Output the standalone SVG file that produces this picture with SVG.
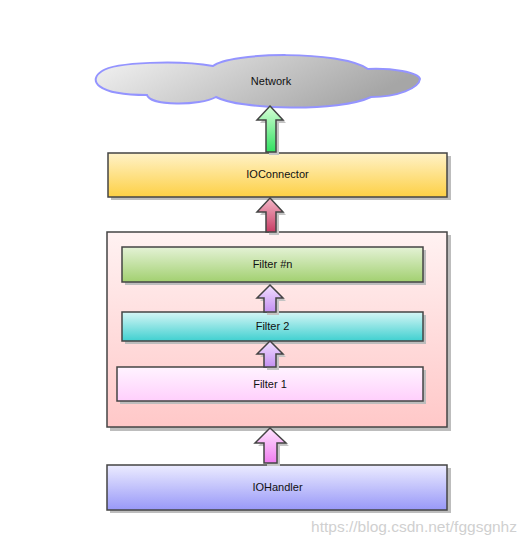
<svg xmlns="http://www.w3.org/2000/svg" width="527" height="544" viewBox="0 0 527 544">
<style>
.box{stroke:#444;stroke-width:1.5}
.sh{fill:#bdbdbd}
.lbl{font-family:"Liberation Sans",Arial,sans-serif;font-size:11px;fill:#111;text-anchor:middle}
.arr{stroke:#444;stroke-width:1.5;stroke-linejoin:miter}
.ash{fill:#c4c4c4}
</style>
<defs>
<linearGradient id="gCloud" x1="0" y1="0" x2="1" y2="0.3"><stop offset="0" stop-color="#f4f4f4"/><stop offset="1" stop-color="#a6a6a6"/></linearGradient>
<linearGradient id="gYel" x1="0" y1="0" x2="0" y2="1"><stop offset="0" stop-color="#fff2c8"/><stop offset="1" stop-color="#fdd045"/></linearGradient>
<linearGradient id="gCont" x1="0" y1="0" x2="0" y2="1"><stop offset="0" stop-color="#fff2f2"/><stop offset="1" stop-color="#ffc8c8"/></linearGradient>
<linearGradient id="gGreen" x1="0" y1="0" x2="0" y2="1"><stop offset="0" stop-color="#e4f2d6"/><stop offset="1" stop-color="#a2d070"/></linearGradient>
<linearGradient id="gCyan" x1="0" y1="0" x2="0" y2="1"><stop offset="0" stop-color="#d6f6f6"/><stop offset="1" stop-color="#40d0d0"/></linearGradient>
<linearGradient id="gPink" x1="0" y1="0" x2="0" y2="1"><stop offset="0" stop-color="#fff4ff"/><stop offset="1" stop-color="#ffcffc"/></linearGradient>
<linearGradient id="gBlue" x1="0" y1="0" x2="0" y2="1"><stop offset="0" stop-color="#ececff"/><stop offset="1" stop-color="#9898f8"/></linearGradient>
<linearGradient id="aGreen" x1="0" y1="0" x2="0" y2="1"><stop offset="0" stop-color="#d8ffd8"/><stop offset="1" stop-color="#30e060"/></linearGradient>
<linearGradient id="aRed" x1="0" y1="0" x2="0" y2="1"><stop offset="0" stop-color="#f4b8c8"/><stop offset="1" stop-color="#c83c64"/></linearGradient>
<linearGradient id="aLav" x1="0" y1="0" x2="0" y2="1"><stop offset="0" stop-color="#f2e0ff"/><stop offset="1" stop-color="#c490f2"/></linearGradient>
<linearGradient id="aPink" x1="0" y1="0" x2="0" y2="1"><stop offset="0" stop-color="#ffe6ff"/><stop offset="1" stop-color="#f07cf0"/></linearGradient>
</defs>

<g id="network">
<path d="M216,97 C200,106 150,106 147,95 C95,95 88,80 102,71 C115,62 180,60 213,66 C230,52 340,50 368,69 C392,68 418,72 420,79 C419,88 398,97 371,97 C340,112 240,110 216,97 Z" fill="url(#gCloud)" stroke="#9494ff" stroke-width="2"/>
<text class="lbl" x="271" y="85">Network</text>
</g>

<g id="ioconnector">
<rect class="sh" x="111" y="156" width="340" height="44"/>
<rect class="box" x="108" y="153" width="339" height="44" fill="url(#gYel)"/>
<text class="lbl" x="277.5" y="178">IOConnector</text>
</g>

<g id="filters-container">
<rect class="sh" x="110" y="235" width="341" height="196"/>
<rect class="box" x="107" y="232" width="340" height="195" fill="url(#gCont)"/>
</g>

<g id="filter-n">
<rect class="sh" x="125" y="250" width="301" height="35"/>
<rect class="box" x="122" y="247" width="301" height="35" fill="url(#gGreen)"/>
<text class="lbl" x="272.5" y="268">Filter #n</text>
</g>

<g id="filter-2">
<rect class="sh" x="125" y="315" width="301" height="29"/>
<rect class="box" x="122" y="312" width="301" height="29" fill="url(#gCyan)"/>
<text class="lbl" x="272.5" y="330">Filter 2</text>
</g>

<g id="filter-1">
<rect class="sh" x="120" y="370" width="306" height="34"/>
<rect class="box" x="117" y="367" width="306" height="34" fill="url(#gPink)"/>
<text class="lbl" x="270" y="388">Filter 1</text>
</g>

<g id="iohandler">
<rect class="sh" x="110" y="468" width="341" height="45"/>
<rect class="box" x="107" y="465" width="340" height="45" fill="url(#gBlue)"/>
<text class="lbl" x="277.5" y="491">IOHandler</text>
</g>

<g id="connectors">
<path class="ash" d="M273,109 L286,123 L279,123 L279,155 L269,155 L269,123 L260,123 Z"/>
<path class="arr" fill="url(#aGreen)" d="M270,106 L283,120 L276,120 L276,152 L266,152 L266,120 L257,120 Z"/>
<path class="ash" d="M273,201 L286,215 L279,215 L279,235 L269,235 L269,215 L260,215 Z"/>
<path class="arr" fill="url(#aRed)" d="M270,198 L283,212 L276,212 L276,232 L266,232 L266,212 L257,212 Z"/>
<path class="ash" d="M273,288 L286,301 L279,301 L279,315 L267,315 L267,301 L260,301 Z"/>
<path class="arr" fill="url(#aLav)" d="M270,285 L283,298 L276,298 L276,312 L264,312 L264,298 L257,298 Z"/>
<path class="ash" d="M273,344 L286,357 L279,357 L279,370 L267,370 L267,357 L260,357 Z"/>
<path class="arr" fill="url(#aLav)" d="M270,341 L283,354 L276,354 L276,367 L264,367 L264,354 L257,354 Z"/>
<path class="ash" d="M273,431 L289,446 L280,446 L280,466 L267,466 L267,446 L258,446 Z"/>
<path class="arr" fill="url(#aPink)" d="M270,428 L286,443 L277,443 L277,463 L264,463 L264,443 L255,443 Z"/>
</g>

<text x="517" y="532" font-family="'Liberation Sans',Arial,sans-serif" font-size="15.5" fill="#d0d0d0" text-anchor="end">https://blog.csdn.net/fggsgnhz</text>
</svg>
